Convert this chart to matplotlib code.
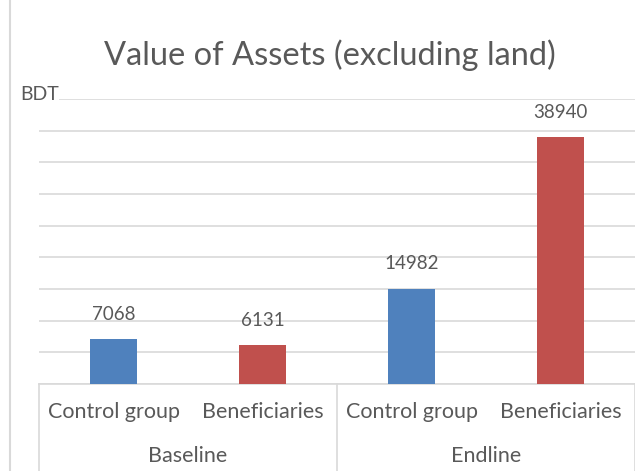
import matplotlib
matplotlib.use("Agg")
import matplotlib.pyplot as plt
from matplotlib.lines import Line2D

groups = ["Baseline", "Endline"]
categories = ["Control group", "Beneficiaries", "Control group", "Beneficiaries"]
values = [7068, 6131, 14982, 38940]
colors = ["#4F81BD", "#C0504D", "#4F81BD", "#C0504D"]
title = "Value of Assets (excluding land)"
unit = "BDT"

plt.rcParams['font.family'] = ['Lato', 'DejaVu Sans']
txt = "#595959"
grid = "#D9D9D9"

W, H = 635, 471
fig = plt.figure(figsize=(W/100, H/100), dpi=100)
x0, x1 = 39, 635
ytop, ybot = 99, 384
ax = fig.add_axes([x0/W, 1 - ybot/H, (x1 - x0)/W, (ybot - ytop)/H])

xs = list(range(len(values)))
ax.bar(xs, values, width=0.31, color=colors, zorder=3)
ax.set_xlim(-0.5, len(values) - 0.5)
ax.set_ylim(0, 45000)
ax.set_yticks(range(0, 45001, 5000))
ax.yaxis.grid(True, color=grid, linewidth=1.2, zorder=0)
ax.tick_params(left=False, labelleft=False, bottom=False, labelbottom=False)
for s in ["left", "right", "top"]:
    ax.spines[s].set_visible(False)
ax.spines["bottom"].set_color(grid)
ax.spines["bottom"].set_linewidth(1.2)

for x, v in zip(xs, values):
    ax.annotate(f"{v}", (x, v), xytext=(0, 12), textcoords="offset points",
                ha="center", va="bottom", fontsize=13.5, color=txt)

# category labels
for x, c in zip(xs, categories):
    px = x0 + (x + 0.5) * (x1 - x0) / len(values)
    fig.text(px / W, 1 - 412 / H, c, ha="center", va="center", fontsize=15.5, color=txt)
for i, g in enumerate(groups):
    px = x0 + (i + 0.5) * (x1 - x0) / len(groups)
    fig.text(px / W, 1 - 456 / H, g, ha="center", va="center", fontsize=15.5, color=txt)

# separators
for px in [x0, (x0 + x1) / 2, x1 - 0.5]:
    fig.add_artist(Line2D([px / W, px / W], [0, 1 - ybot / H], color=grid, linewidth=1.2))
# chart border left
fig.add_artist(Line2D([9.5 / W, 9.5 / W], [0, 1], color=grid, linewidth=1.5))

fig.text(330 / W, 1 - 55 / H, title, ha="center", va="center", fontsize=23.5, color=txt)
fig.text(20 / W, 1 - 95 / H, unit, ha="left", va="center", fontsize=14, color=txt,
         bbox=dict(facecolor="white", edgecolor="none", pad=0))

fig.savefig("out.png", dpi=100)
